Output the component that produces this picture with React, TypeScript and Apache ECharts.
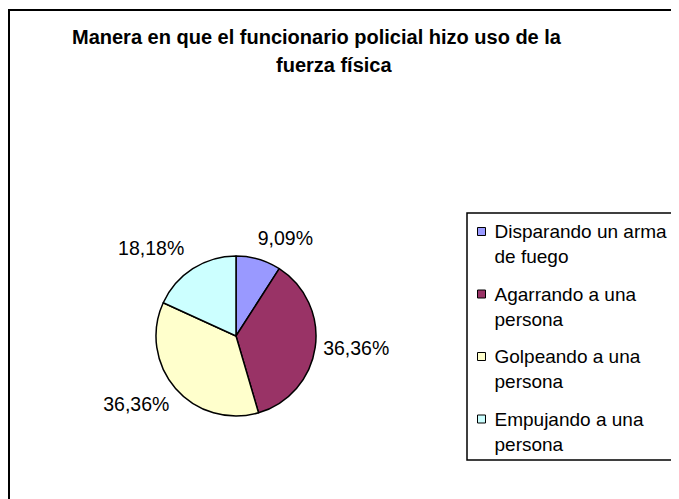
import React, { useEffect, useRef } from "react";
import * as echarts from "echarts";

const titleLines = [
  "Manera en que el funcionario policial hizo uso de la",
  "fuerza física",
];
const categories = [
  "Disparando un arma de fuego",
  "Agarrando a una persona",
  "Golpeando a una persona",
  "Empujando a una persona",
];
const legendLabels = [
  "Disparando un arma\nde fuego",
  "Agarrando a una\npersona",
  "Golpeando a una\npersona",
  "Empujando a una\npersona",
];
const percents = [9.09, 36.36, 36.36, 18.18];
const colors = ["#9999FF", "#993366", "#FFFFCC", "#CCFFFF"];

// label placement tweaks (library-computed outside labels)
const labelLineLengths = [22, 4, 24, 25];
const labelDistances = [-7, 4, -12, -5];

const FONT = "'Liberation Sans', Arial, Helvetica, sans-serif";

// legend marker: an 8x8 square aligned with the first text line of a two-line item
const LEGEND_ICON = "path://M0 0 M0 8.5 L8 8.5 L8 16.5 L0 16.5 Z M8 50";

export default function App() {
  const ref = useRef<HTMLDivElement>(null);
  useEffect(() => {
    const chart = echarts.init(ref.current!, null, { renderer: "svg" });
    chart.setOption({
      animation: false,
      backgroundColor: "#ffffff",
      textStyle: { fontFamily: FONT },
      graphic: [
        {
          type: "rect",
          silent: true,
          shape: { x: 1, y: 2, width: 720, height: 620 },
          style: { fill: "none", stroke: "#000", lineWidth: 2 },
        },
        {
          type: "rect",
          silent: true,
          shape: { x: 459, y: 205, width: 300, height: 247 },
          style: { fill: "none", stroke: "#000", lineWidth: 1.5 },
        },
        {
          type: "text",
          x: 64,
          y: 28.5,
          style: {
            text: titleLines[0],
            fontFamily: FONT,
            fontSize: 20,
            fontWeight: "bold",
            fill: "#000",
            align: "left",
            verticalAlign: "middle",
          },
        },
        {
          type: "text",
          x: 268,
          y: 57,
          style: {
            text: titleLines[1],
            fontFamily: FONT,
            fontSize: 20,
            fontWeight: "bold",
            fill: "#000",
            align: "left",
            verticalAlign: "middle",
          },
        },
      ],
      legend: {
        orient: "vertical",
        left: 469,
        top: 210.5,
        padding: 0,
        itemWidth: 8,
        itemHeight: 50,
        itemGap: 11.5,
        icon: LEGEND_ICON,
        itemStyle: { borderColor: "#000", borderWidth: 1 },
        formatter: (name: string) => legendLabels[categories.indexOf(name)],
        textStyle: {
          fontFamily: FONT,
          fontSize: 19,
          lineHeight: 25,
          color: "#000",
          padding: [0, 0, 0, 4],
        },
        data: categories,
      },
      series: [
        {
          type: "pie",
          center: [228, 328],
          radius: 80,
          startAngle: 90,
          clockwise: true,
          avoidLabelOverlap: false,
          itemStyle: { borderColor: "#000", borderWidth: 1.5 },
          label: {
            show: true,
            position: "outside",
            fontFamily: FONT,
            fontSize: 19.5,
            color: "#000",
            formatter: (p: any) => p.value.toFixed(2).replace(".", ",") + "%",
          },
          labelLine: { show: false, length2: 0 },
          emphasis: { disabled: true },
          data: categories.map((name, i) => ({
            name,
            value: percents[i],
            itemStyle: { color: colors[i] },
            labelLine: { show: false, length: labelLineLengths[i], length2: 0 },
            label: { distanceToLabelLine: labelDistances[i] },
          })),
        },
      ],
    });
    return () => chart.dispose();
  }, []);
  return <div ref={ref} style={{ width: 671, height: 491 }} />;
}
